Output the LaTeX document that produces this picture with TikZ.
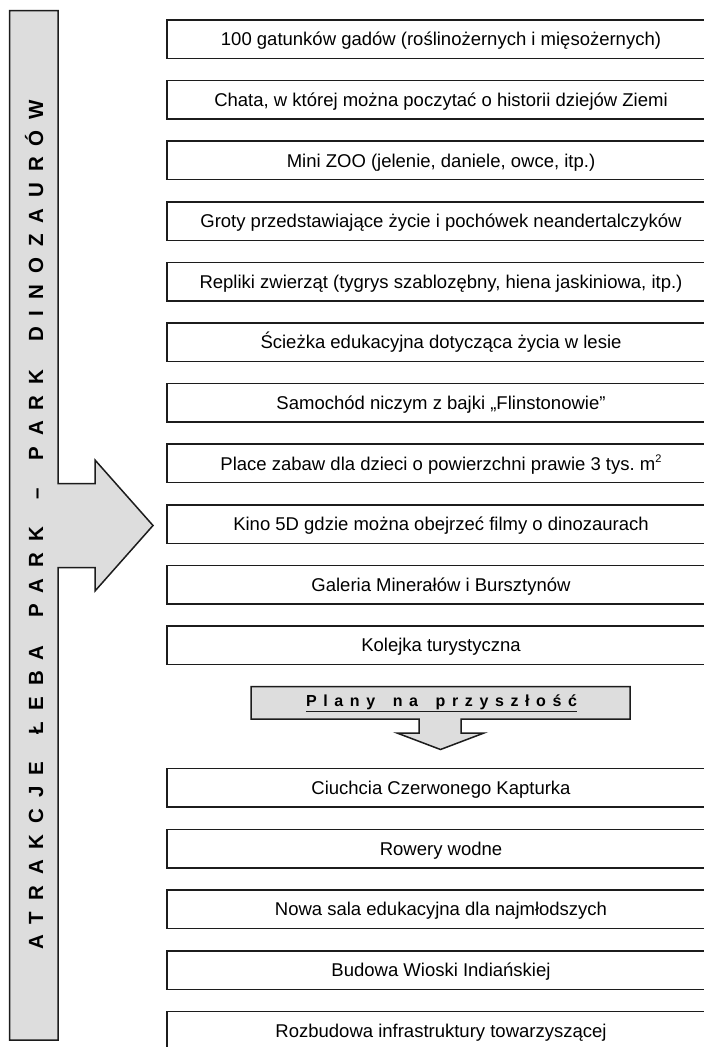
\documentclass[tikz,border=0pt]{standalone}
\usepackage{fontspec}
\setmainfont{Liberation Sans}
\frenchspacing
\definecolor{fillgray}{RGB}{221,221,221}
\definecolor{edge}{RGB}{28,28,28}
% explicit letter spacing (title)
\newcommand{\ts}{\hspace{10.94pt}}
\newcommand{\tw}{\hspace{27.58pt}}
% explicit letter spacing (plans)
\newcommand{\ps}{\hspace{6.6pt}}
\newcommand{\pw}{\hspace{17.65pt}}
\begin{document}
\begin{tikzpicture}[x=1pt,y=-1pt,
  itembox/.style={draw=edge, line width=1.5pt, minimum width=548pt, minimum height=38.5pt,
    inner sep=0pt, font=\fontsize{18.5}{22}\selectfont, text height=13.2pt, text depth=0pt},
  shapeline/.style={draw=edge, fill=fillgray, line width=1.5pt, line join=miter},
  vtitle/.style={rotate=90, anchor=base west, inner sep=0pt,
    font=\fontsize{20.5}{24}\selectfont\bfseries},
  plantext/.style={inner sep=0pt, anchor=base,
    font=\fontsize{16}{19}\selectfont\bfseries}]
\useasboundingbox (0,0) rectangle (704,1047);
\clip (0,0) rectangle (704,1047);
% left bar with arrow
\draw[shapeline] (9.5,10.5) -- (58,10.5) -- (58,483.5) -- (95,483.5) -- (95,460) -- (153,525.5)
  -- (95,591) -- (95,567.5) -- (58,567.5) -- (58,1040) -- (9.5,1040) -- cycle;
\node[vtitle] (title) at (43,950) {A\ts T\ts R\ts A\ts K\ts C\ts J\ts E\tw Ł\ts E\ts B\ts A\tw P\ts A\ts R\ts K\tw –\tw P\ts A\ts R\ts K\tw D\ts I\ts N\ts O\ts Z\ts A\ts U\ts R\ts Ó\ts W};
% attraction boxes
\node[itembox] (a1) at (441,39.25) {100 gatunków gadów (roślinożernych i mięsożernych)};
\node[itembox] (a2) at (441,99.85) {Chata, w której można poczytać o historii dziejów Ziemi};
\node[itembox] (a3) at (441,160.45) {Mini ZOO (jelenie, daniele, owce, itp.)};
\node[itembox] (a4) at (441,221.05) {Groty przedstawiające życie i pochówek neandertalczyków};
\node[itembox] (a5) at (441,281.65) {Repliki zwierząt (tygrys szablozębny, hiena jaskiniowa, itp.)};
\node[itembox] (a6) at (441,342.25) {Ścieżka edukacyjna dotycząca życia w lesie};
\node[itembox] (a7) at (441,402.85) {Samochód niczym z bajki „Flinstonowie”};
\node[itembox] (a8) at (441,463.45) {Place zabaw dla dzieci o powierzchni prawie 3 tys. m\raisebox{7.5pt}{\fontsize{11}{11}\selectfont 2}};
\node[itembox] (a9) at (441,524.05) {Kino 5D gdzie można obejrzeć filmy o dinozaurach};
\node[itembox] (a10) at (441,584.65) {Galeria Minerałów i Bursztynów};
\node[itembox] (a11) at (441,645.25) {Kolejka turystyczna};
% plans callout
\draw[shapeline] (251,686.7) -- (630,686.7) -- (630,719) -- (461,719) -- (461,733) -- (484,733)
  -- (440.5,749.5) -- (397,733) -- (419,733) -- (419,719) -- (251,719) -- cycle;
\node[plantext] (plt) at (441.5,706.7) {P\ps l\ps a\ps n\ps y\pw n\ps a\pw p\ps r\ps z\ps y\ps s\ps z\ps ł\ps o\ps ś\ps ć};
\draw[edge, line width=1.2pt] ([yshift=-4.5pt]plt.base west) -- ([yshift=-4.5pt]plt.base east);
% future boxes
\node[itembox] (f1) at (441,787.75) {Ciuchcia Czerwonego Kapturka};
\node[itembox] (f2) at (441,848.55) {Rowery wodne};
\node[itembox] (f3) at (441,909.35) {Nowa sala edukacyjna dla najmłodszych};
\node[itembox] (f4) at (441,970.15) {Budowa Wioski Indiańskiej};
\node[itembox] (f5) at (441,1030.95) {Rozbudowa infrastruktury towarzyszącej};
\end{tikzpicture}
\end{document}
